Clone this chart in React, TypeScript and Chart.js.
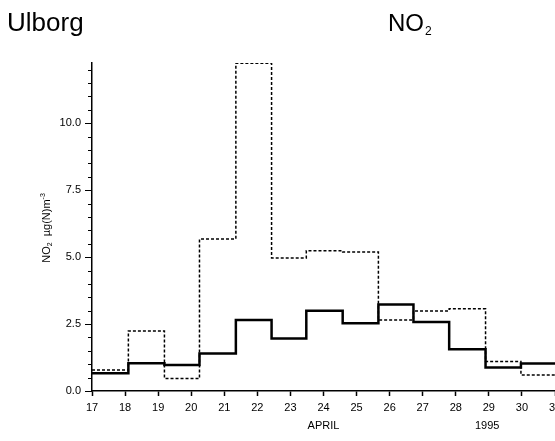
import React, { useEffect, useRef } from "react";
import { Chart, registerables } from "chart.js";

Chart.register(...registerables);

// Start of each sampling period (day of April 1995) and end of the last one
const periodStarts = [17, 18.1, 19.19, 20.25, 21.35, 22.43, 23.48, 24.58, 25.66, 26.72, 27.8, 28.9, 29.97];
const periodEnd = 31;
// NO2 concentrations, µg(N)/m3
const solidSeries = [0.66, 1.04, 0.97, 1.4, 2.65, 1.96, 3.0, 2.53, 3.23, 2.58, 1.56, 0.88, 1.03];
const dashedSeries = [0.78, 2.24, 0.47, 5.68, 12.24, 4.97, 5.24, 5.19, 2.65, 2.99, 3.07, 1.1, 0.6];
// Axis settings
const xMin = 17;
const xMax = 31;
const yMin = 0;
const yMax = 12.25;
const yMajorStep = 2.5;
const yMinorStep = 0.5;
const monthLabel = "APRIL";
const monthLabelAt = 24;
const yearLabel = "1995";
const yearLabelAt = 28.95;

const FONT = '"Liberation Sans", Arial, Helvetica, sans-serif';

function toPoints(values: number[]) {
  const pts = periodStarts.map((d, i) => ({ x: d, y: values[i] }));
  pts.push({ x: periodEnd, y: values[values.length - 1] });
  return pts;
}

const decorPlugin = {
  id: "decor",
  afterDraw(chart: any) {
    const ctx = chart.ctx as CanvasRenderingContext2D;
    const ys = chart.scales.y;
    const xs = chart.scales.x;
    ctx.save();
    // minor ticks on y axis
    ctx.strokeStyle = "#000";
    ctx.lineWidth = 1;
    for (let v = yMin; v <= yMax + 1e-9; v += yMinorStep) {
      const r = v / yMajorStep;
      if (Math.abs(r - Math.round(r)) < 1e-6) continue;
      const py = Math.round(ys.getPixelForValue(v)) + 0.5;
      ctx.beginPath();
      ctx.moveTo(ys.right - 4, py);
      ctx.lineTo(ys.right, py);
      ctx.stroke();
    }
    // titles
    ctx.fillStyle = "#000";
    ctx.textBaseline = "alphabetic";
    ctx.textAlign = "left";
    ctx.font = `26px ${FONT}`;
    ctx.fillText("Ulborg", 7, 31);
    ctx.font = `24px ${FONT}`;
    ctx.fillText("NO", 388, 31);
    const noW = ctx.measureText("NO").width;
    ctx.font = `12px ${FONT}`;
    ctx.fillText("2", 388 + noW + 1, 35);

    // x sub labels
    ctx.font = `11px ${FONT}`;
    ctx.textAlign = "center";
    ctx.fillText(monthLabel, xs.getPixelForValue(monthLabelAt), 429);
    ctx.fillText(yearLabel, xs.getPixelForValue(yearLabelAt), 429);

    // y title rotated
    ctx.translate(50, 228);
    ctx.rotate(-Math.PI / 2);
    ctx.textAlign = "left";
    const parts: [string, number, number][] = [
      ["NO", 11, 0],
      ["2", 7, 2],
      ["  \u00b5g(N)m", 11, 0],
      ["-3", 7, -5],
    ];
    let total = 0;
    for (const [t, s] of parts) {
      ctx.font = `${s}px ${FONT}`;
      total += ctx.measureText(t).width;
    }
    let cx = -total / 2;
    for (const [t, s, dy] of parts) {
      ctx.font = `${s}px ${FONT}`;
      ctx.fillText(t, cx, dy);
      cx += ctx.measureText(t).width;
    }
    ctx.restore();
  },
};

export default function App() {
  const ref = useRef<HTMLCanvasElement | null>(null);
  useEffect(() => {
    if (!ref.current) return;
    Chart.defaults.font.family = FONT;
    const chart = new Chart(ref.current, {
      type: "line",
      data: {
        datasets: [
          {
            data: toPoints(dashedSeries),
            borderColor: "#000",
            borderWidth: 1.5,
            borderDash: [3, 2],
            stepped: true,
            pointRadius: 0,
            fill: false,
          },
          {
            data: toPoints(solidSeries),
            borderColor: "#000",
            borderWidth: 2.5,
            stepped: true,
            pointRadius: 0,
            fill: false,
          },
        ],
      },
      options: {
        animation: false,
        responsive: false,
        events: [],
        layout: { padding: { top: 63, right: 45, left: 0, bottom: 0 } },
        plugins: { legend: { display: false }, tooltip: { enabled: false } },
        scales: {
          x: {
            type: "linear",
            min: xMin,
            max: xMax,
            ticks: {
              stepSize: 1,
              autoSkip: false,
              maxRotation: 0,
              color: "#000",
              padding: 5,
              font: { size: 11 },
              callback: (v: any) => String(v),
            },
            grid: { drawOnChartArea: false, drawTicks: true, tickLength: 5, tickColor: "#000", tickWidth: 1.5 },
            border: { display: true, color: "#000", width: 1.5 },
            afterFit: (s: any) => {
              s.height = 50;
            },
          },
          y: {
            min: yMin,
            max: yMax,
            ticks: {
              stepSize: yMajorStep,
              includeBounds: false,
              color: "#000",
              padding: 4,
              font: { size: 11 },
              callback: (v: any) => Number(v).toFixed(1),
            },
            grid: { drawOnChartArea: false, drawTicks: true, tickLength: 7, tickColor: "#000", tickWidth: 1 },
            border: { display: true, color: "#000", width: 1.5 },
            afterFit: (s: any) => {
              s.width = 92;
            },
          },
        },
      },
      plugins: [decorPlugin],
    } as any);
    return () => chart.destroy();
  }, []);
  return (
    <div
      style={{
        position: "fixed",
        left: 0,
        top: 0,
        width: 555,
        height: 441,
        overflow: "hidden",
        background: "#fff",
      }}
    >
      <canvas ref={ref} width={600} height={441} style={{ display: "block", width: 600, height: 441 }} />
    </div>
  );
}
